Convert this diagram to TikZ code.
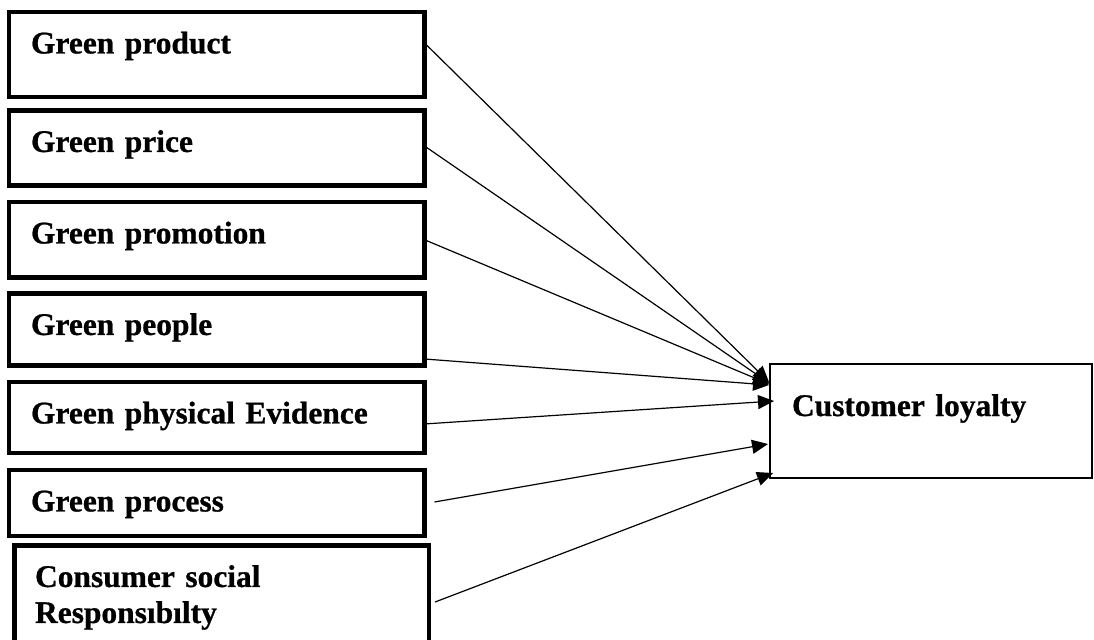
\documentclass[tikz,border=0pt]{standalone}
\usepackage{fontspec}
\setmainfont{Liberation Serif}[BoldFeatures={FakeBold=0.8}]
\usetikzlibrary{arrows.meta,calc}

\tikzset{
  factor/.style={draw,line width=3.5pt,anchor=north west,outer sep=0pt,
    inner xsep=16.5pt,inner ysep=0pt,text width=278.6pt,align=left,
    text height=31.1pt,text depth=#1},
  outcome/.style={draw,line width=1.8pt,anchor=north west,outer sep=0pt,
    inner xsep=16.5pt,inner ysep=0pt,text width=208.5pt,align=left,
    text height=39pt,text depth=46.5pt},
  link/.style={-{Triangle[length=12pt,width=10.5pt]},line width=0.9pt}
}

\begin{document}
\begin{tikzpicture}[x=0.75pt,y=-0.75pt,font=\bfseries\fontsize{23.6pt}{27pt}\selectfont]
  \useasboundingbox (0,0) rectangle (1094,639);

  % the seven factors
  \node[factor=32.6pt] (prod)   at (9,12)    {Green product};
  \node[factor=25.1pt] (price)  at (9,110.5) {Green price};
  \node[factor=25.5pt] (promo)  at (9,202)   {Green promotion};
  \node[factor=22.9pt] (people) at (9,293.5) {Green people};
  \node[factor=22.1pt] (phys)   at (9,382)   {Green physical Evidence};
  \node[factor=18.4pt] (proc)   at (9,470)   {Green process};
  \node[factor=60pt,text width=280.1pt,inner xsep=15.4pt] (csr) at (14.5,545.5)
    {Consumer social\\Responsıbılty};

  % outcome
  \node[outcome] (loyal) at (770,364) {Customer loyalty};

  % links
  \draw[link] ([shift={(0,-11.5)}]prod.east)  -- ([shift={(-1,-39)}]loyal.west);
  \draw[link] ([shift={(0,-2)}]price.east)    -- ([shift={(-1,-38)}]loyal.west);
  \draw[link] (promo.east)                    -- ([shift={(-1,-37)}]loyal.west);
  \draw[link] ([shift={(0,29.5)}]people.east) -- ([shift={(-1,-36)}]loyal.west);
  \draw[link] ([shift={(0,6.5)}]phys.east)    -- ([shift={(4,-20)}]loyal.west);
  \draw[link] ([shift={(10,-1)}]proc.east)    -- ([shift={(-2,23)}]loyal.west);
  \draw[link] ([shift={(6,56.5)}]csr.north east) -- ([shift={(3,52)}]loyal.west);
\end{tikzpicture}
\end{document}
